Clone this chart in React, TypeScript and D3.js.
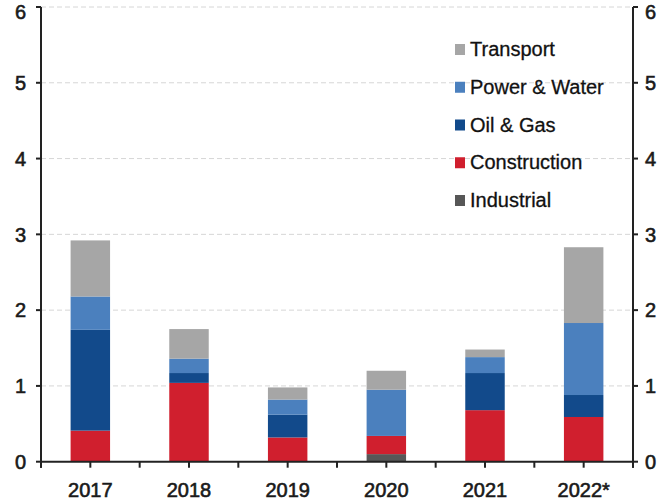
import React from "react";
import * as d3 from "d3";

const categories = ["2017", "2018", "2019", "2020", "2021", "2022*"];
const seriesNames = ["Industrial", "Construction", "Oil & Gas", "Power & Water", "Transport"];
const industrial = [0, 0, 0, 0.1, 0, 0];
const construction = [0.41, 1.04, 0.32, 0.24, 0.68, 0.59];
const oilGas = [1.33, 0.13, 0.3, 0, 0.49, 0.29];
const powerWater = [0.44, 0.19, 0.2, 0.61, 0.21, 0.95];
const transport = [0.74, 0.39, 0.16, 0.25, 0.1, 1.0];
const yTicks = [0, 1, 2, 3, 4, 5, 6];
const legendOrder = ["Transport", "Power & Water", "Oil & Gas", "Construction", "Industrial"];

const colors: Record<string, string> = {
  Industrial: "#575757",
  Construction: "#d01f2e",
  "Oil & Gas": "#124a8b",
  "Power & Water": "#4b80be",
  Transport: "#a6a6a6",
};

export default function App() {
  const W = 662, H = 501;
  const left = 41, right = 633, top = 7, bottom = 461.7;
  const x = d3.scaleBand<string>().domain(categories).range([left, right]).paddingInner(0.6).paddingOuter(0.3);
  const y = d3.scaleLinear().domain([0, 6]).range([bottom, top]);
  const step = x.step();

  const rows = categories.map((c, i) => ({
    cat: c,
    Industrial: industrial[i],
    Construction: construction[i],
    "Oil & Gas": oilGas[i],
    "Power & Water": powerWater[i],
    Transport: transport[i],
  }));
  const stack = d3.stack<any>().keys(seriesNames)(rows);

  const xTicks: number[] = [];
  for (let k = 0; k <= categories.length * 2; k++) xTicks.push(left + (k * step) / 2);

  const font = "'Liberation Sans', Arial, sans-serif";
  const textColor = "#1a1a1a";
  const heavy = { stroke: textColor, strokeWidth: 0.6 };

  return (
    <svg width={W} height={H} style={{ position: "absolute", left: 0, top: 0 }} fontFamily={font}>
      <rect x={0} y={0} width={W} height={H} fill="#fff" />
      {yTicks.filter((t) => t > 0).map((t) => (
        <line key={"g" + t} x1={left} x2={right} y1={y(t)} y2={y(t)} stroke="#d6d6d6" strokeWidth={1} strokeDasharray="5,3" />
      ))}
      {stack.map((s) => (
        <g key={s.key} fill={colors[s.key]}>
          {s.map((d, i) => {
            const h = y(d[0]) - y(d[1]);
            if (h <= 0) return null;
            return <rect key={i} x={x(categories[i])} y={y(d[1])} width={x.bandwidth()} height={h} />;
          })}
        </g>
      ))}
      <line x1={left} x2={left} y1={top} y2={bottom + 6} stroke="#222" strokeWidth={2} />
      <line x1={right} x2={right} y1={top} y2={bottom + 6} stroke="#222" strokeWidth={2} />
      <line x1={left} x2={right} y1={bottom} y2={bottom} stroke="#222" strokeWidth={2} />
      {yTicks.map((t) => (
        <g key={"yt" + t}>
          <line x1={left - 5} x2={left} y1={y(t)} y2={y(t)} stroke="#222" strokeWidth={2} />
          <line x1={right} x2={right + 5} y1={y(t)} y2={y(t)} stroke="#222" strokeWidth={2} />
          <text x={26} y={Math.max(y(t), 11.5)} dy="0.36em" textAnchor="end" fontSize={20} fill={textColor} {...heavy}>{t}</text>
          <text x={645} y={Math.max(y(t), 11.5)} dy="0.36em" textAnchor="start" fontSize={20} fill={textColor} {...heavy}>{t}</text>
        </g>
      ))}
      {xTicks.map((tx, k) => (
        <line key={"xt" + k} x1={tx} x2={tx} y1={bottom} y2={bottom + 6} stroke="#222" strokeWidth={2} />
      ))}
      {categories.map((c) => (
        <text key={c} x={(x(c) as number) + x.bandwidth() / 2} y={497} textAnchor="middle" fontSize={20} fill={textColor} {...heavy}>{c}</text>
      ))}
      {legendOrder.map((name, i) => {
        const cy = 49 + i * 37.75;
        return (
          <g key={name}>
            <rect x={455} y={cy - 5} width={10} height={11} fill={colors[name]} />
            <text x={470} y={cy} dy="0.36em" fontSize={20} fill="#111" stroke="#111" strokeWidth={0.3}>{name}</text>
          </g>
        );
      })}
    </svg>
  );
}
